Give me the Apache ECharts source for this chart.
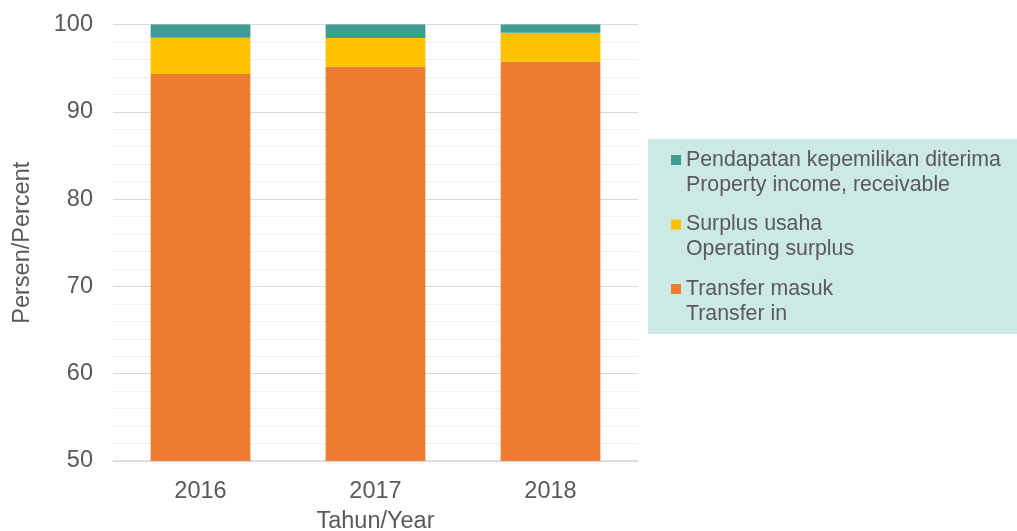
<!DOCTYPE html>
<html>
<head>
<meta charset="utf-8">
<script src="https://cdn.jsdelivr.net/npm/echarts@6/dist/echarts.min.js"></script>
<style>
  html, body { margin: 0; padding: 0; background: #fff; overflow: hidden; }
  #chart { width: 1017px; height: 531px; }
</style>
</head>
<body>
<div id="chart"></div>
<script>
var years = ['2016', '2017', '2018'];
var transferIn = [94.34, 95.17, 95.74];
var operatingSurplus = [4.15, 3.29, 3.32];
var propertyIncome = [1.51, 1.54, 0.94];
var seriesNames = ['Pendapatan kepemilikan diterima', 'Surplus usaha', 'Transfer masuk'];
var englishNames = ['Property income, receivable', 'Operating surplus', 'Transfer in'];

(function () {
  var chart = echarts.init(document.getElementById('chart'));
  var textColor = '#595959';
  var fontFamily = 'Liberation Sans';

  var option = {
    backgroundColor: '#fff',
    animation: false,
    textStyle: { fontFamily: fontFamily },
    // v6 shrinks the grid to fit names by default, turn that off
    grid: { left: 113, right: 379, top: 24.5, bottom: 70, containLabel: false, outerBoundsMode: 'none' },
    legend: {
      orient: 'vertical',
      left: 648,
      top: 139,
      data: seriesNames,
      icon: 'path://M0,0h10v10h-10z M0,35h0.01v0.01h-0.01z',
      itemWidth: 10,
      itemHeight: 35,
      itemGap: 14.5,
      padding: [8.5, 30, 7.5, 23],
      backgroundColor: '#cde9e6',
      textStyle: { color: textColor, fontSize: 21.3, lineHeight: 25, fontFamily: fontFamily },
      formatter: function (name) {
        var i = seriesNames.indexOf(name);
        return name + '\n' + englishNames[i];
      }
    },
    xAxis: {
      type: 'category',
      data: years,
      name: 'Tahun/Year',
      nameLocation: 'middle',
      nameGap: 49,
      nameTextStyle: { color: textColor, fontSize: 23.5, fontFamily: fontFamily },
      axisLine: { lineStyle: { color: '#d9d9d9', width: 1.5 } },
      axisTick: { show: false },
      axisLabel: { color: textColor, fontSize: 23.5, margin: 19, fontFamily: fontFamily }
    },
    yAxis: {
      type: 'value',
      min: 50,
      max: 100,
      interval: 10,
      name: 'Persen/Percent',
      nameLocation: 'middle',
      nameGap: 78,
      nameTextStyle: { color: textColor, fontSize: 23.5, fontFamily: fontFamily },
      axisLine: { show: false },
      axisTick: { show: false },
      axisLabel: { color: textColor, fontSize: 23.5, margin: 20, fontFamily: fontFamily },
      splitLine: { lineStyle: { color: '#d9d9d9', width: 1 } },
      minorTick: { show: false, splitNumber: 5 },
      minorSplitLine: { show: true, lineStyle: { color: '#f0f0f0', width: 1 } }
    },
    series: [
      {
        name: seriesNames[2],
        type: 'bar',
        stack: 'total',
        barWidth: '57%',
        data: transferIn,
        itemStyle: { color: '#ed7d31' }
      },
      {
        name: seriesNames[1],
        type: 'bar',
        stack: 'total',
        data: operatingSurplus,
        itemStyle: { color: '#ffc000' }
      },
      {
        name: seriesNames[0],
        type: 'bar',
        stack: 'total',
        data: propertyIncome,
        itemStyle: { color: '#3e9c93' }
      }
    ]
  };

  chart.setOption(option);
})();
</script>
</body>
</html>
